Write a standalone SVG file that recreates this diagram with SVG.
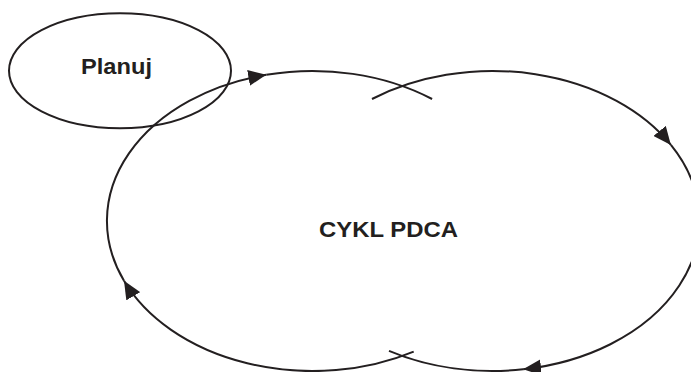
<svg xmlns="http://www.w3.org/2000/svg" width="691" height="372" viewBox="0 0 691 372">
  <style>
    .ln { fill: none; stroke: #231f20; stroke-width: 2; }
    .lbl { font-family: "Liberation Sans", Arial, sans-serif; font-weight: bold; font-size: 22px; fill: #231f20; text-anchor: middle; }
  </style>
  <defs>
    <marker id="arr" markerUnits="userSpaceOnUse" markerWidth="18" markerHeight="16" refX="18" refY="8" orient="auto" viewBox="0 0 18 16">
      <path d="M0,0 L18,8 L0,16 z" fill="#231f20"/>
    </marker>
  </defs>
  <rect width="691" height="372" fill="#ffffff"/>
  <g id="planuj">
    <ellipse class="ln" cx="120" cy="70.8" rx="111" ry="57.5"/>
    <text class="lbl" x="116.5" y="74" textLength="71" lengthAdjust="spacingAndGlyphs">Planuj</text>
  </g>
  <g id="cykl">
    <text class="lbl" x="388.5" y="236.5" textLength="139" lengthAdjust="spacingAndGlyphs">CYKL PDCA</text>
  </g>
  <g id="connectors">
    <path class="ln" d="M413.7,351.6 A205.5,150 0 0 1 124,280.8" marker-end="url(#arr)"/>
    <path class="ln" d="M124,280.8 A205.5,150 0 0 1 266.3,74.8" marker-end="url(#arr)"/>
    <path class="ln" d="M266.3,74.8 A205.5,150 0 0 1 432.1,99"/>
    <path class="ln" d="M372,99 A207,150 0 0 1 670.9,144.9" marker-end="url(#arr)"/>
    <path class="ln" d="M670.9,144.9 A207,150 0 0 1 523.1,369.3" marker-end="url(#arr)"/>
    <path class="ln" d="M523.1,369.3 A207,150 0 0 1 389,350.9"/>
  </g>
</svg>
